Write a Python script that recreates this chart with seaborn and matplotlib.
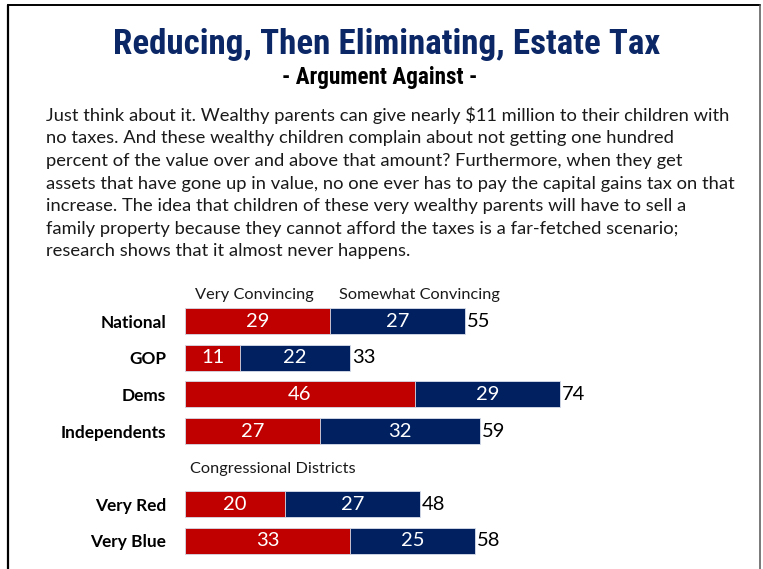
import numpy as np
import pandas as pd
import matplotlib
matplotlib.use("Agg")
import matplotlib.pyplot as plt
import seaborn as sns
from matplotlib.lines import Line2D
from matplotlib.textpath import TextPath
from matplotlib.font_manager import FontProperties

# Survey results (percent)
groups = ["National", "GOP", "Dems", "Independents", "Very Red", "Very Blue"]
very_convincing = [29, 11, 46, 27, 20, 33]
somewhat_convincing = [27, 22, 29, 32, 27, 25]
total_convincing = [55, 33, 74, 59, 48, 58]
row_order = ["National", "GOP", "Dems", "Independents", " ", "Very Red", "Very Blue"]

title = "Reducing, Then Eliminating, Estate Tax"
subtitle = "- Argument Against -"
body_lines = [
    "Just think about it. Wealthy parents can give nearly $11 million to their children with",
    "no taxes. And these wealthy children complain about not getting one hundred",
    "percent of the value over and above that amount? Furthermore, when they get",
    "assets that have gone up in value, no one ever has to pay the capital gains tax on that",
    "increase. The idea that children of these very wealthy parents will have to sell a",
    "family property because they cannot afford the taxes is a far-fetched scenario;",
    "research shows that it almost never happens.",
]
series_names = ["Very Convincing", "Somewhat Convincing"]
section_label = "Congressional Districts"

RED = "#C00000"
BLUE = "#002060"
NAVY = "#0B2766"
TEXT = "#1a1a1a"
HEAD_FONTS = ["Liberation Sans Narrow", "Roboto Condensed", "Liberation Sans", "DejaVu Sans"]

sns.set_theme(style="white")
plt.rcParams["font.family"] = ["Lato", "DejaVu Sans"]

W, H = 763, 569
DPI = 100
fig = plt.figure(figsize=(W / DPI, H / DPI), dpi=DPI)
fig.patch.set_facecolor("white")
renderer = fig.canvas.get_renderer()


def fx(px):
    return px / W


def fy(py):
    return 1 - py / H


def fit(txt, width_px):
    bb = txt.get_window_extent(renderer)
    txt.set_fontsize(txt.get_fontsize() * width_px / bb.width)


def fit_box(txt, width_px, cap_px):
    """Size a heading between its target width and its target cap height."""
    bb = txt.get_window_extent(renderer)
    size = txt.get_fontsize()
    s_w = size * width_px / bb.width
    prop = FontProperties(family=txt.get_fontfamily(), weight=txt.get_fontweight())
    cap_pt = TextPath((0, 0), "H", size=size, prop=prop).get_extents().height
    s_h = size * cap_px / (cap_pt * DPI / 72)
    txt.set_fontsize(np.sqrt(s_w * s_h))


# frame
fig.add_artist(Line2D([fx(7.7), fx(7.7)], [0, fy(4.5)], transform=fig.transFigure,
                      color="black", lw=1.6))
fig.add_artist(Line2D([fx(7.7), fx(759.5)], [fy(4.5), fy(4.5)], transform=fig.transFigure,
                      color="black", lw=1.4))
fig.add_artist(Line2D([fx(759.5), fx(759.5)], [0, fy(4.5)], transform=fig.transFigure,
                      color="#555555", lw=1.1))

# headings
t = fig.text(fx(387), fy(54.3), title, ha="center", va="baseline", color=NAVY,
             fontsize=22, fontweight="bold", family=HEAD_FONTS)
fit_box(t, 602, 22.6)
s = fig.text(fx(380), fy(84), subtitle, ha="center", va="baseline", color="black",
             fontsize=14, fontweight="bold", family=HEAD_FONTS)
fit_box(s, 222, 14.5)

# argument text
first = fig.text(fx(46), fy(120.7), body_lines[0], ha="left", va="baseline",
                 color=TEXT, fontsize=12)
fit(first, 679)
body_size = first.get_fontsize()
for i, line in enumerate(body_lines[1:], start=1):
    fig.text(fx(46), fy(120.7 + i * 22.6), line, ha="left", va="baseline",
             color=TEXT, fontsize=body_size)

# stacked bars
ax = fig.add_axes([fx(185), fy(559.3), fx(400), (559.3 - 302.9) / H])
df = pd.DataFrame({
    "group": groups,
    "very": very_convincing,
    "somewhat": somewhat_convincing,
})
df["stack"] = df["very"] + df["somewhat"]

bar_kw = dict(orient="h", order=row_order, width=0.71, saturation=1,
              errorbar=None, edgecolor="#d9dfeb", linewidth=0.6, ax=ax)
sns.barplot(data=df, y="group", x="stack", color=BLUE, **bar_kw)
sns.barplot(data=df, y="group", x="very", color=RED, **bar_kw)

ax.set_xlim(0, 80)
ax.set_ylim(6.5, -0.5)
ax.set_xlabel("")
ax.set_ylabel("")
ax.set_xticks([])
sns.despine(ax=ax, left=True, bottom=True)
ax.tick_params(axis="y", length=0, pad=13.7)
for lab in ax.get_yticklabels():
    lab.set_fontweight("bold")
    lab.set_fontsize(12.4)
    lab.set_color("black")

NUM_SIZE = 14.5
for g, v, sm, tot in zip(groups, very_convincing, somewhat_convincing, total_convincing):
    y = row_order.index(g)
    ax.text(v / 2, y, str(v), ha="center", va="center", color="white", fontsize=NUM_SIZE)
    ax.text(v + sm / 2, y, str(sm), ha="center", va="center", color="white", fontsize=NUM_SIZE)
    ax.annotate(str(tot), xy=(v + sm, y), xytext=(1.2, 0), textcoords="offset points",
                ha="left", va="center", color="black", fontsize=NUM_SIZE,
                annotation_clip=False)

# series names above the bars and the section label
h1 = fig.text(fx(254), fy(295), series_names[0], ha="center", va="center",
              color=TEXT, fontsize=12)
fit(h1, 118)
h2 = fig.text(fx(419), fy(295), series_names[1], ha="center", va="center",
              color=TEXT, fontsize=h1.get_fontsize())
sec = fig.text(fx(190), fy(469), section_label, ha="left", va="center",
               color=TEXT, fontsize=h1.get_fontsize())

fig.savefig("out.png", dpi=100, facecolor="white")
